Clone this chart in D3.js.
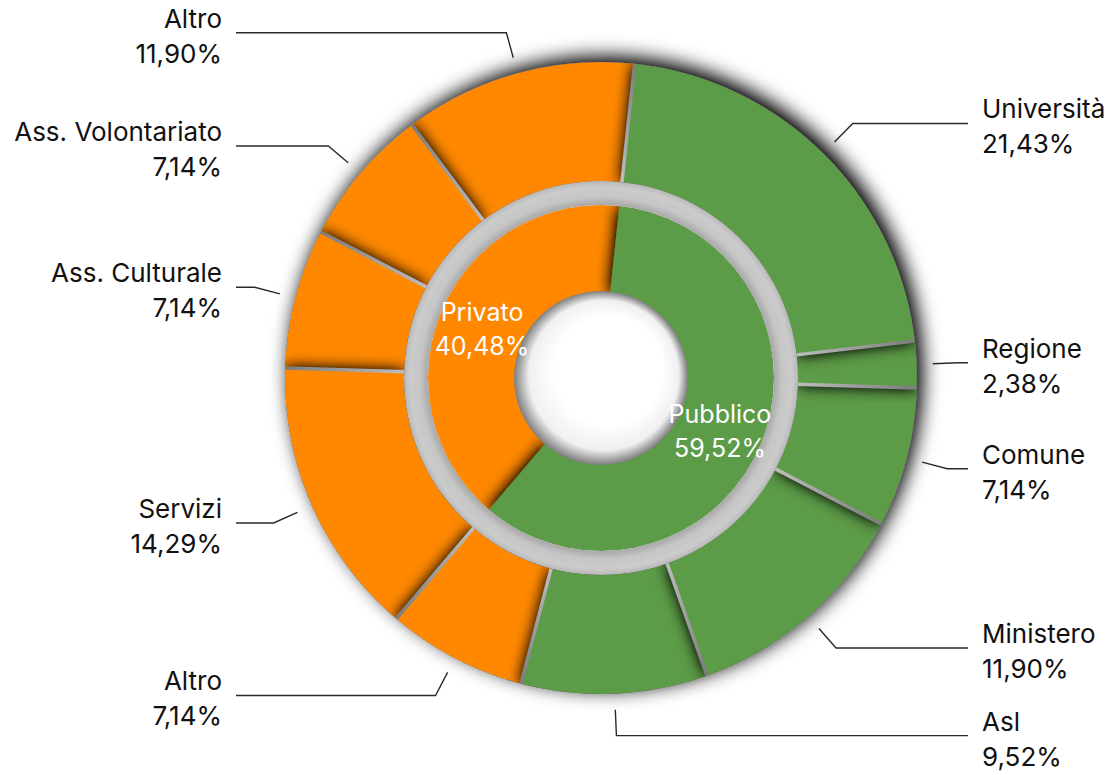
<!DOCTYPE html>
<html>
<head>
<meta charset="utf-8">
<script src="https://cdn.jsdelivr.net/npm/d3@7"></script>
<style>
  body { margin: 0; background: #fff; }
  svg { display: block; font-family: Inter, "Noto Sans", sans-serif; }
</style>
</head>
<body>
<div id="chart"></div>
<script>
// Data
const innerNames = ["Pubblico", "Privato"];
const innerValues = [59.52, 40.48];

const outerNames = ["Università", "Regione", "Comune", "Ministero", "Asl",
  "Altro", "Servizi", "Ass. Culturale", "Ass. Volontariato", "Altro"];
const outerValues = [21.43, 2.38, 7.14, 11.90, 9.52, 7.14, 14.29, 7.14, 7.14, 11.90];
const outerGroups = ["Pubblico", "Pubblico", "Pubblico", "Pubblico", "Pubblico",
  "Privato", "Privato", "Privato", "Privato", "Privato"];

const width = 1109;
const height = 775;
const cx = 601, cy = 378;
const startAngle = 6.1 * Math.PI / 180;

const colors = { Pubblico: "#5c9b46", Privato: "#ff8800" };
const fmt = (v) => d3.format(".2f")(v).replace(".", ",") + "%";

const svg = d3.select("#chart").append("svg")
  .attr("width", width)
  .attr("height", height);

const defs = svg.append("defs");

// shadow filter helper
function addShadow(id, blur, dx, dy, slope) {
  const f = defs.append("filter").attr("id", id)
    .attr("x", "-30%").attr("y", "-30%").attr("width", "160%").attr("height", "160%");
  f.append("feGaussianBlur").attr("in", "SourceAlpha").attr("stdDeviation", blur).attr("result", "blur");
  f.append("feOffset").attr("in", "blur").attr("dx", dx).attr("dy", dy).attr("result", "off");
  f.append("feComponentTransfer").attr("in", "off").attr("result", "sh")
    .append("feFuncA").attr("type", "linear").attr("slope", slope);
  const m = f.append("feMerge");
  m.append("feMergeNode").attr("in", "sh");
  m.append("feMergeNode").attr("in", "SourceGraphic");
}
addShadow("outerShadow", 10, 5, -5, 1.1);
addShadow("sliceShadow", 8, 0, 0, 1.4);

// groove ring gradient
const groove = defs.append("radialGradient").attr("id", "groove")
  .attr("gradientUnits", "userSpaceOnUse")
  .attr("cx", 0).attr("cy", 0).attr("r", 197);
groove.append("stop").attr("offset", 173 / 197).attr("stop-color", "#a8a8a8");
groove.append("stop").attr("offset", 0.92).attr("stop-color", "#c6c6c6");
groove.append("stop").attr("offset", 0.97).attr("stop-color", "#cbcbcb");
groove.append("stop").attr("offset", 1).attr("stop-color", "#b8b8b8");

// gap lines between outer slices
const gapGrad = defs.append("radialGradient").attr("id", "gapGrad")
  .attr("gradientUnits", "userSpaceOnUse")
  .attr("cx", 0).attr("cy", 0).attr("r", 316);
gapGrad.append("stop").attr("offset", 197 / 316).attr("stop-color", "#bdbdbd");
gapGrad.append("stop").attr("offset", 1).attr("stop-color", "#7c7c7c");

// center hole
const hole = defs.append("radialGradient").attr("id", "hole")
  .attr("cx", 0.5).attr("cy", 0.5).attr("r", 0.5).attr("fx", 0.62).attr("fy", 0.38);
hole.append("stop").attr("offset", 0.62).attr("stop-color", "#ffffff");
hole.append("stop").attr("offset", 0.86).attr("stop-color", "#f0f0f0");
hole.append("stop").attr("offset", 1).attr("stop-color", "#7e7e7e");

// clip paths to keep slice shadows inside their rings
const ring = (r0, r1) => d3.arc().innerRadius(r0).outerRadius(r1).startAngle(0).endAngle(2 * Math.PI)();
defs.append("clipPath").attr("id", "clipInner").append("path")
  .attr("d", ring(86, 173)).attr("transform", `translate(${cx},${cy})`);
defs.append("clipPath").attr("id", "clipOuter").append("path")
  .attr("d", ring(197, 316)).attr("transform", `translate(${cx},${cy})`);

// Layout
const pie = d3.pie().sort(null).value((d) => d.value)
  .startAngle(startAngle).endAngle(startAngle + 2 * Math.PI);

const innerData = pie(innerNames.map((n, i) => ({ name: n, value: innerValues[i] })));
const outerData = pie(outerNames.map((n, i) => ({ name: n, value: outerValues[i], group: outerGroups[i] })));

const innerArc = d3.arc().innerRadius(86).outerRadius(173);
const outerArc = d3.arc().innerRadius(197).outerRadius(316);
const polar = (r, a) => [Math.sin(a) * r, -Math.cos(a) * r];

// outer ring drop shadow (drawn first so the groove covers its inner spill)
const outerBase = svg.append("g").attr("transform", `translate(${cx},${cy})`);
outerBase.append("path")
  .attr("d", ring(197, 316))
  .attr("fill", "#8a8a8a")
  .attr("filter", "url(#outerShadow)");

// inner ring (drawn in reverse so each slice casts onto the next one)
const innerG = svg.append("g").attr("clip-path", "url(#clipInner)")
  .append("g").attr("transform", `translate(${cx},${cy})`);
innerG.selectAll("path.inner")
  .data(innerData.slice().reverse())
  .enter()
  .append("path")
  .attr("class", "inner")
  .attr("d", innerArc)
  .attr("fill", (d) => colors[d.data.name])
  .attr("filter", "url(#sliceShadow)");

// groove between rings
const grooveG = svg.append("g").attr("transform", `translate(${cx},${cy})`);
grooveG.append("path")
  .attr("d", ring(173, 197))
  .attr("fill", "url(#groove)");

// outer slices
const outerG = svg.append("g").attr("clip-path", "url(#clipOuter)")
  .append("g").attr("transform", `translate(${cx},${cy})`);
outerG.selectAll("path.outer")
  .data(outerData.slice().reverse())
  .enter()
  .append("path")
  .attr("class", "outer")
  .attr("d", outerArc)
  .attr("fill", (d) => colors[d.data.group])
  .attr("filter", "url(#sliceShadow)");

// gaps
outerG.selectAll("line.gap")
  .data(outerData)
  .enter()
  .append("line")
  .attr("class", "gap")
  .attr("x1", (d) => polar(195, d.startAngle)[0])
  .attr("y1", (d) => polar(195, d.startAngle)[1])
  .attr("x2", (d) => polar(318, d.startAngle)[0])
  .attr("y2", (d) => polar(318, d.startAngle)[1])
  .attr("stroke", "url(#gapGrad)")
  .attr("stroke-width", 3.5);

// center hole
const fg = svg.append("g").attr("transform", `translate(${cx},${cy})`);
fg.append("circle").attr("r", 87).attr("fill", "url(#hole)");

// inner labels
innerData.forEach((d) => {
  const [x, y] = innerArc.centroid(d);
  const t = fg.append("text")
    .attr("text-anchor", "middle")
    .attr("fill", "#fff")
    .style("font-size", "25px");
  t.append("tspan").attr("x", x).attr("y", y - 6).text(d.data.name);
  t.append("tspan").attr("x", x).attr("y", y + 28).text(fmt(d.data.value));
});

// outer labels with leader lines
const rightX = 982 - cx;
const leftX = 222 - cx;

outerData.forEach((d) => {
  const a = (d.startAngle + d.endAngle) / 2;
  const p0 = polar(332, a);
  const p1 = polar(358, a);
  const right = Math.sin(a) > 0;
  const tx = right ? rightX : leftX;
  const lineEnd = right ? tx - 14 : tx + 14;

  fg.append("path")
    .attr("d", d3.line()([p0, p1, [lineEnd, p1[1]]]))
    .attr("fill", "none")
    .attr("stroke", "#2a2a2a")
    .attr("stroke-width", 1.4);

  const t = fg.append("text")
    .attr("text-anchor", right ? "start" : "end")
    .attr("fill", "#111")
    .style("font-size", "26px");
  t.append("tspan").attr("x", tx).attr("y", p1[1] - 5).text(d.data.name);
  t.append("tspan").attr("x", tx).attr("y", p1[1] + 30).text(fmt(d.data.value));
});
</script>
</body>
</html>
